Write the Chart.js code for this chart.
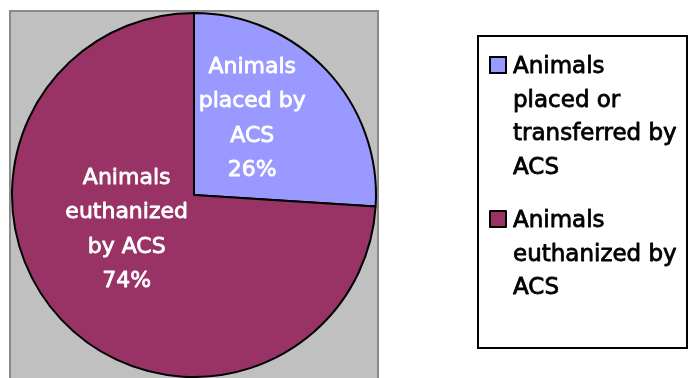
<!DOCTYPE html>
<html>
<head>
<meta charset="utf-8">
<script src="https://cdn.jsdelivr.net/npm/chart.js@4.4.0/dist/chart.umd.min.js"></script>
<style>
  html, body { margin: 0; padding: 0; background: #ffffff; overflow: hidden; }
  #wrap { width: 688px; height: 378px; position: relative; }
</style>
</head>
<body>
<div id="wrap"><canvas id="c" width="688" height="378"></canvas></div>
<script>
// Outcome of animals handled by ACS
const categories = ['Animals placed or transferred by ACS', 'Animals euthanized by ACS'];
const shares = [26, 74];
const sliceColors = ['#9999FF', '#993366'];
const legendLines = [
  ['Animals', 'placed or', 'transferred by', 'ACS'],
  ['Animals', 'euthanized by', 'ACS']
];
const sliceLabelLines = [
  ['Animals', 'placed by', 'ACS'],
  ['Animals', 'euthanized', 'by ACS']
];

const FONT = '"DejaVu Sans", Verdana, sans-serif';

// Text drawn with a thin outline in the same colour for a heavier stroke
function heavyText(ctx, text, x, y, colour) {
  ctx.fillStyle = colour;
  ctx.strokeStyle = colour;
  ctx.lineWidth = 0.8;
  ctx.lineJoin = 'round';
  ctx.fillText(text, x, y);
  ctx.strokeText(text, x, y);
}

// Grey plot frame behind the pie
const plotFrame = {
  id: 'plotFrame',
  beforeDraw(chart) {
    const { ctx, chartArea } = chart;
    const x = chartArea.left - 1, y = chartArea.top - 1;
    const w = chartArea.right - chartArea.left + 2;
    ctx.save();
    ctx.fillStyle = '#C0C0C0';
    ctx.fillRect(x, y, w, chart.height + 10);
    ctx.strokeStyle = '#8a8a8a';
    ctx.lineWidth = 2;
    ctx.strokeRect(x, y, w, chart.height + 10);
    ctx.restore();
  }
};

// White labels inside each slice: category lines plus the percentage
const sliceLabels = {
  id: 'sliceLabels',
  afterDatasetsDraw(chart, args, opts) {
    const { ctx } = chart;
    const meta = chart.getDatasetMeta(0);
    const total = shares.reduce((a, b) => a + b, 0);
    ctx.save();
    ctx.font = '22px ' + FONT;
    ctx.textAlign = 'center';
    ctx.textBaseline = 'middle';
    meta.data.forEach((arc, i) => {
      const r = arc.outerRadius;
      const [fx, fy] = opts.anchors[i];
      const cx = arc.x + fx * r, cy = arc.y + fy * r;
      const lines = sliceLabelLines[i].concat([Math.round(shares[i] / total * 100) + '%']);
      const step = opts.lineHeight;
      const top = cy - step * (lines.length - 1) / 2;
      lines.forEach((t, k) => heavyText(ctx, t, cx, top + k * step, '#ffffff'));
    });
    ctx.restore();
  }
};

// Boxed legend at the right with wrapped entries
const boxLegend = {
  id: 'boxLegend',
  afterDraw(chart, args, opts) {
    const { ctx } = chart;
    const b = opts.box;
    ctx.save();
    ctx.strokeStyle = '#000000';
    ctx.lineWidth = 2;
    ctx.strokeRect(b.x, b.y, b.w, b.h);
    ctx.font = '23px ' + FONT;
    ctx.textAlign = 'left';
    ctx.textBaseline = 'alphabetic';
    let base = opts.firstBaseline;
    legendLines.forEach((lines, i) => {
      ctx.fillStyle = sliceColors[i];
      ctx.fillRect(opts.markerX, base - 16, 16, 16);
      ctx.strokeStyle = '#000000';
      ctx.lineWidth = 2;
      ctx.strokeRect(opts.markerX, base - 16, 16, 16);
      lines.forEach((t, k) => heavyText(ctx, t, opts.textX, base + k * opts.lineHeight, '#000000'));
      base += lines.length * opts.lineHeight + opts.itemGap;
    });
    ctx.restore();
  }
};

new Chart(document.getElementById('c'), {
  type: 'pie',
  data: {
    labels: categories,
    datasets: [{
      data: shares,
      backgroundColor: sliceColors,
      borderColor: '#000000',
      borderWidth: 2,
      hoverOffset: 0
    }]
  },
  options: {
    responsive: false,
    animation: false,
    devicePixelRatio: 1,
    layout: { padding: { left: 11, top: 12, right: 311, bottom: 0 } },
    plugins: {
      legend: { display: false },
      tooltip: { enabled: false },
      sliceLabels: { anchors: [[0.32, -0.42], [-0.37, 0.19]], lineHeight: 34.5 },
      boxLegend: {
        box: { x: 478, y: 36, w: 209, h: 312 },
        markerX: 490, textX: 513, firstBaseline: 73, lineHeight: 33.5, itemGap: 20
      }
    }
  },
  plugins: [plotFrame, sliceLabels, boxLegend]
});
</script>
</body>
</html>
